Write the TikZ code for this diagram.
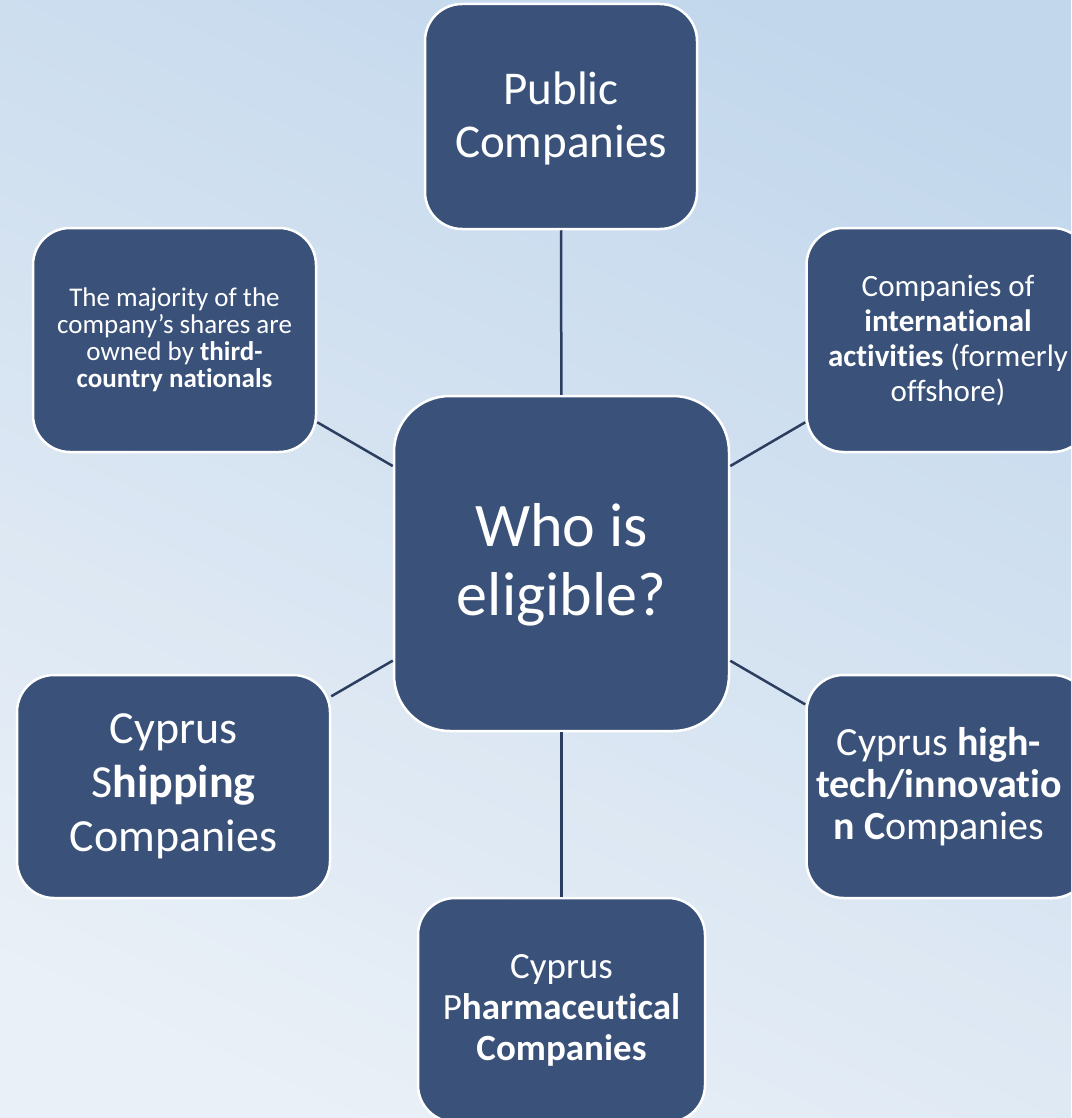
\documentclass[tikz,border=0pt]{standalone}
\usepackage{fontspec}
\setmainfont[Ligatures=NoCommon]{Carlito}
\definecolor{boxblue}{HTML}{3A527A}
\definecolor{linkblue}{HTML}{2C3E60}
\definecolor{bgtop}{HTML}{C2D7EC}
\definecolor{bgmid}{HTML}{DCE7F3}
\definecolor{bgbot}{HTML}{EAF0F7}
\begin{document}
\begin{tikzpicture}[x=1pt,y=-1pt,
  box/.style={draw=white, line width=2.5pt, fill=boxblue, text=white,
    rounded corners=37pt, inner sep=0pt, align=center},
  boxtext/.style={text=white, inner sep=0pt, align=center},
  link/.style={draw=linkblue, line width=2.5pt}]
\useasboundingbox (0,0) rectangle (1071,1118);
\clip (0,0) rectangle (1071,1118);
\shade[top color=bgtop, middle color=bgmid, bottom color=bgbot, shading angle=-25] (-50,-50) rectangle (1121,1168);

\node[box, rounded corners=56pt, minimum width=335pt, minimum height=335pt] (c) at (561.5,563.5) {};
\node[boxtext, font={\fontsize{62}{69}\selectfont}] (ctext) at ([yshift=-1.5pt]c.center) {Who is\\eligible?};

\node[box, minimum width=272pt, minimum height=225pt] (top) at (561,116.5) {};
\node[boxtext, font={\fontsize{47}{53}\selectfont}] (toptext) at ([yshift=-2pt]top.center) {Public\\Companies};

\node[box, minimum width=283pt, minimum height=224pt,
  font={\fontsize{27}{27}\selectfont}] (tl) at (174.5,340)
  {The majority of the\\company’s shares are\\owned by \textbf{third-}\\\textbf{country nationals}};

\node[box, minimum width=283pt, minimum height=224pt,
  font={\fontsize{31}{35}\selectfont}] (tr) at (948,340)
  {Companies of\\\textbf{international}\\\textbf{activities} (formerly\\offshore)};

\node[box, minimum width=313pt, minimum height=223pt,
  font={\fontsize{46}{54}\selectfont}] (bl) at (173.5,786.5)
  {Cyprus\\S\textbf{hipping}\\Companies};

\node[box, minimum width=283pt, minimum height=223pt] (br) at (948,786.5) {};
\node[boxtext, font={\fontsize{40}{42}\selectfont}] (brtext) at ([xshift=-9pt]br.center)
  {Cyprus \textbf{high-}\\\textbf{tech/innovatio}\\\textbf{n C}ompanies};

\node[box, minimum width=287pt, minimum height=224pt,
  font={\fontsize{37}{41}\selectfont}] (bot) at (561.5,1010)
  {Cyprus\\P\textbf{harmaceutical}\\\textbf{Companies}};

\draw[link] (c) -- (top);
\draw[link] (c) -- (tl);
\draw[link] (c) -- (tr);
\draw[link] (c) -- (bl);
\draw[link] (c) -- (br);
\draw[link] (c) -- (bot);
\end{tikzpicture}
\end{document}
